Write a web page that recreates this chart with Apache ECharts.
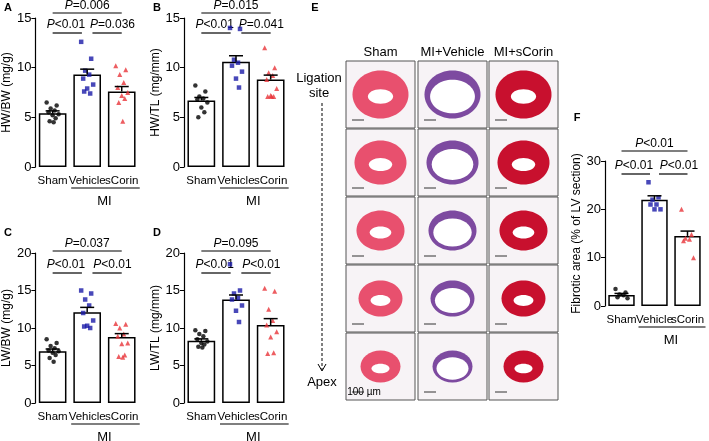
<!DOCTYPE html>
<html><head><meta charset="utf-8">
<script src="https://cdn.jsdelivr.net/npm/echarts@6/dist/echarts.min.js"></script>
<style>html,body{margin:0;padding:0;background:#fff}#c{width:709px;height:441px}</style>
</head><body><div id="c"></div>
<script>
const categories = ['Sham','Vehicle','sCorin'];
const aMeans=[5.4,9.3,7.6], aSem=[0.25,0.55,0.5];
const aSham=[6.5,6.2,5.9,5.7,5.5,5.3,5.2,4.9,4.6,4.5];
const aVeh=[12.6,10.9,9.7,9.3,8.9,8.3,7.9,7.4,7.6];
const aSc=[10.2,9.8,9.3,8.5,8.0,7.5,7.2,6.9,6.5,4.6];
const bMeans=[6.7,10.6,8.8], bSem=[0.3,0.6,0.45];
const bSham=[8.2,7.6,7.1,6.9,6.8,6.5,6.0,5.5,5.0];
const bVeh=[14.0,13.9,10.8,10.5,10.2,9.6,8.9,8.0];
const bSc=[12.0,10.0,9.5,9.2,8.8,7.9,7.2,7.1,7.1,7.1];
const cMeans=[6.9,12.1,8.8], cSem=[0.3,0.65,0.45];
const cSham=[8.5,8.0,7.6,7.3,7.0,6.9,6.7,6.4,6.0,5.5];
const cVeh=[15.0,14.6,13.8,13.0,12.0,11.0,10.3,10.0,10.2];
const cSc=[10.6,10.5,10.0,9.2,8.9,8.0,7.9,6.4,6.2,6.1];
const dMeans=[8.3,13.8,10.4], dSem=[0.25,0.6,0.85];
const dSham=[9.7,9.6,9.2,8.9,8.5,8.2,8.0,7.8,7.5,7.4];
const dVeh=[18.5,15.0,14.6,14.0,13.8,13.0,12.3,10.8];
const dSc=[15.3,14.9,12.5,11.0,10.4,9.5,8.8,6.7,6.6];
const fMeans=[2.3,22.0,14.5], fSem=[0.3,0.8,1.0];
const fSham=[3.5,2.8,2.4,2.2,1.8,1.6];
const fVeh=[25.6,22.5,22.0,21.0,21.0,20.0,20.0];
const fSc=[20.0,14.8,14.0,13.8,13.5,10.0];
const pA=['P=0.006','P<0.01','P=0.036'], pB=['P=0.015','P<0.01','P=0.041'];
const pC=['P=0.037','P<0.01','P<0.01'], pD=['P=0.095','P<0.01','P<0.01'];
const pF=['P<0.01','P<0.01','P<0.01'];

const FONT='Liberation Sans, Arial, sans-serif';
const colors=['#000000','#1a1aa8','#e8343a'];
const symbols=['circle','rect','triangle'];
const panels=[
 {l:35,t:18,h:149,w:104,max:15,int:5,name:'HW/BW (mg/g)',m:aMeans,s:aSem,pts:[aSham,aVeh,aSc],p:pA,top:-5,low:15},
 {l:184,t:18,h:149,w:104,max:15,int:5,name:'HW/TL (mg/mm)',m:bMeans,s:bSem,pts:[bSham,bVeh,bSc],p:pB,top:-5,low:15},
 {l:35,t:253,h:150,w:104,max:20,int:5,name:'LW/BW (mg/g)',m:cMeans,s:cSem,pts:[cSham,cVeh,cSc],p:pC,top:-2,low:20},
 {l:184,t:253,h:150,w:104,max:20,int:5,name:'LW/TL (mg/mm)',m:dMeans,s:dSem,pts:[dSham,dVeh,dSc],p:pD,top:-2,low:20},
 {l:605,t:161,h:145,w:99,max:30,int:10,name:'Fibrotic area (% of LV section)',m:fMeans,s:fSem,pts:[fSham,fVeh,fSc],p:pF,top:-10,low:13}
];
const jit=[-6,4,-2,2,-4,6,0,3,-3,1];
const grid=[],xAxis=[],yAxis=[],series=[];
panels.forEach((p,i)=>{
 grid.push({left:p.l,top:p.t,width:p.w,height:p.h});
 xAxis.push({type:'category',gridIndex:i,data:categories,axisLine:{show:false},axisTick:{show:false},
   axisLabel:{interval:0,color:'#000',fontFamily:FONT,fontSize:11.5,margin:8}});
 yAxis.push({type:'value',gridIndex:i,min:0,max:p.max,interval:p.int,name:p.name,nameLocation:'middle',nameGap:20,
   nameTextStyle:{color:'#000',fontFamily:FONT,fontSize:12},
   axisLine:{show:true,lineStyle:{color:'#000',width:1.2}},axisTick:{show:true,length:4,lineStyle:{color:'#000'}},
   splitLine:{show:false},axisLabel:{color:'#000',fontFamily:FONT,fontSize:13,margin:4}});
 series.push({type:'bar',xAxisIndex:i,yAxisIndex:i,data:p.m,barWidth:'80%',
   itemStyle:{color:'#fff',borderColor:'#000',borderWidth:1.5},silent:true});
 series.push({type:'custom',xAxisIndex:i,yAxisIndex:i,z:5,data:p.m.map((v,k)=>[k,v,p.s[k]]),
   renderItem:(params,api)=>{const a=api.coord([api.value(0),api.value(1)]);const b=api.coord([api.value(0),api.value(1)+api.value(2)]);
    return {type:'group',children:[
     {type:'line',shape:{x1:a[0],y1:a[1],x2:b[0],y2:b[1]},style:{stroke:'#000',lineWidth:1.5}},
     {type:'line',shape:{x1:b[0]-7,y1:b[1],x2:b[0]+7,y2:b[1]},style:{stroke:'#000',lineWidth:1.5}}]};}});
 p.pts.forEach((arr,k)=>{
  series.push({type:'scatter',xAxisIndex:i,yAxisIndex:i,z:4,symbol:symbols[k],symbolSize:k==2?5:4.5,
   itemStyle:{color:colors[k]},data:arr.map((v,j)=>({value:[k,v],symbolOffset:[jit[j%jit.length],0]}))});
 });
});
const chart=echarts.init(document.getElementById('c'));
chart.setOption({animation:false,grid,xAxis,yAxis,series});

const g=[];
const txt=(x,y,t,o)=>g.push(Object.assign({type:'text',x,y,style:Object.assign({text:t,fill:'#000',font:'12px '+FONT,align:'center',verticalAlign:'middle'},o||{})}));
const ln=(x1,y1,x2,y2,o)=>g.push({type:'line',shape:{x1,y1,x2,y2},style:Object.assign({stroke:'#000',lineWidth:1.2},o||{})});
const rich=t=>({text:'{i|P}'+t.slice(1),rich:{i:{fontStyle:'italic',font:'italic 12px '+FONT,fill:'#000'}}});
panels.forEach((p,i)=>{
 const xs=[0,1,2].map(k=>chart.convertToPixel({xAxisIndex:i,yAxisIndex:i},[k,0])[0]);
 const yT=p.t+p.top, yL=p.t+p.low;
 ln(xs[0],yT,xs[2],yT); ln(xs[0],yL,(xs[0]+xs[1])/2+12,yL); ln((xs[1]+xs[2])/2-12,yL,xs[2],yL);
 g.push({type:'text',x:xs[1],y:yT-7,style:Object.assign(rich(p.p[0]),{font:'12px '+FONT,fill:'#000',align:'center',verticalAlign:'middle'})});
 g.push({type:'text',x:(xs[0]+xs[1])/2-4,y:yL-8,style:Object.assign(rich(p.p[1]),{font:'12px '+FONT,fill:'#000',align:'center',verticalAlign:'middle'})});
 g.push({type:'text',x:(xs[1]+xs[2])/2+8,y:yL-8,style:Object.assign(rich(p.p[2]),{font:'12px '+FONT,fill:'#000',align:'center',verticalAlign:'middle'})});
 const yb=p.t+p.h;
 ln(xs[1]-16,yb+21,xs[2]+18,yb+21);
 txt((xs[1]+xs[2])/2,yb+34,'MI',{font:'13px '+FONT});
});
[['A',8,8],['B',157,8],['C',8,233],['D',157,233],['E',315,8],['F',577,118]].forEach(a=>txt(a[1],a[2],a[0],{font:'bold 11px '+FONT}));
// Panel E schematic
const cols=[346,418,489], colW=69, rows=[61,129,197,265,333], rowH=67;
const heads=['Sham','MI+Vehicle','MI+sCorin'];
const fills=[['#e8506e','#f08aa0'],['#7d4aa0','#a98cc8'],['#c8102e','#e05a6a']];
cols.forEach((x,ci)=>{
 txt(x+colW/2,52,heads[ci],{font:'13px '+FONT});
 rows.forEach((y,ri)=>{
  g.push({type:'rect',shape:{x,y,width:colW,height:rowH},style:{fill:'#f7f3f6',stroke:'#555',lineWidth:1}});
  const r=24-ri*2;
  g.push({type:'ellipse',shape:{cx:x+colW/2,cy:y+rowH/2,rx:r+4,ry:r},style:{fill:fills[ci][0]}});
  g.push({type:'ellipse',shape:{cx:x+colW/2,cy:y+rowH/2+2,rx:(r+4)*(ci==1?0.8:0.45),ry:r*(ci==1?0.7:0.3)},style:{fill:'#fff'}});
  g.push({type:'line',shape:{x1:x+6,y1:y+rowH-8,x2:x+18,y2:y+rowH-8},style:{stroke:'#333',lineWidth:1}});
 });
});
txt(319,78,'Ligation',{font:'13px '+FONT}); txt(319,93,'site',{font:'13px '+FONT});
ln(322,103,322,370,{lineDash:[3,2],lineWidth:1});
ln(318,364,322,371,{lineWidth:1}); ln(326,364,322,371,{lineWidth:1});
txt(322,382,'Apex',{font:'13px '+FONT});
txt(364,392,'100 µm',{font:'10px '+FONT});
chart.setOption({graphic:{elements:g}});
</script></body></html>
